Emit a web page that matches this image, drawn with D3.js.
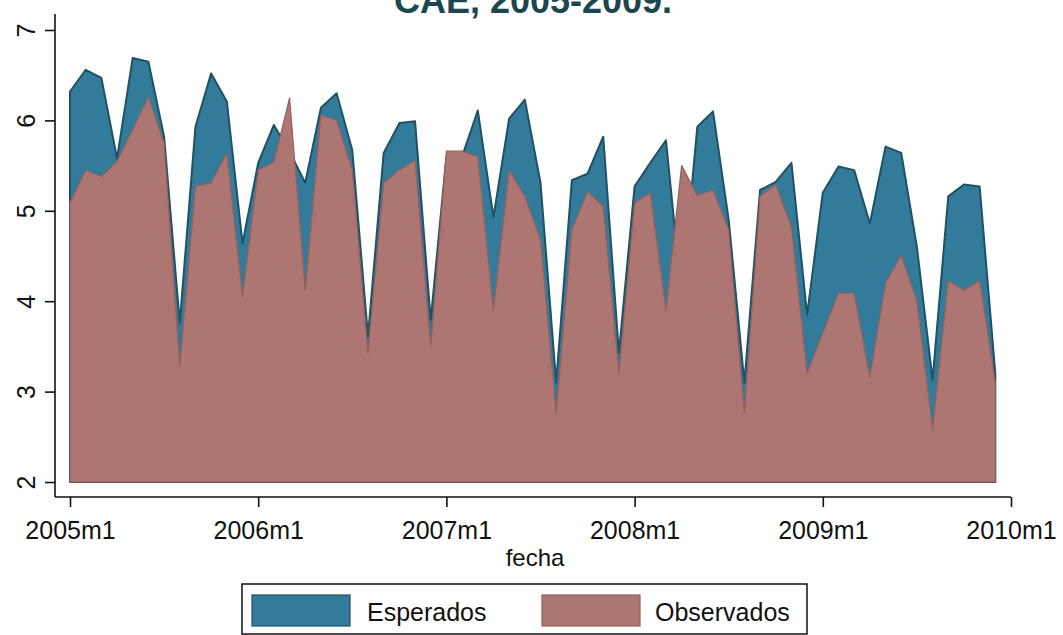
<!DOCTYPE html>
<html><head><meta charset="utf-8">
<script src="https://cdn.jsdelivr.net/npm/d3@7"></script>
<style>
body{margin:0;background:#fff}
svg{display:block}
text{font-family:"Liberation Sans",Arial,Helvetica,sans-serif}
</style>
</head><body>
<svg id="chart" width="1063" height="635"></svg>
<script>
// ---- data ----
const titleText = "CAE, 2005-2009.";
const xTitle = "fecha";
const tickLabels = ["2005m1","2006m1","2007m1","2008m1","2009m1","2010m1"];
const tickMonths = [0,12,24,36,48,60];
const yTicks = [2,3,4,5,6,7];
const yTickLabels = ["2","3","4","5","6","7"];
const legendLabels = ["Esperados","Observados"];
// monthly values, 2005m1 .. 2009m12
const esperados = [
  6.32,6.56,6.47,5.58,6.69,6.65,5.82,3.76,5.93,6.52,6.21,4.64,
  5.53,5.95,5.65,5.31,6.14,6.30,5.67,3.61,5.64,5.97,5.99,3.79,
  5.60,5.60,6.11,4.93,6.02,6.23,5.31,3.10,5.34,5.41,5.82,3.43,
  5.27,5.53,5.78,4.05,5.93,6.10,4.90,3.10,5.23,5.32,5.53,3.85,
  5.20,5.49,5.45,4.86,5.71,5.64,4.60,3.13,5.16,5.29,5.27,3.20
];
const observados = [
  5.09,5.45,5.38,5.55,5.90,6.26,5.75,3.28,5.27,5.31,5.64,4.05,
  5.45,5.54,6.25,4.12,6.06,6.00,5.45,3.43,5.31,5.45,5.56,3.50,
  5.66,5.66,5.60,3.90,5.45,5.16,4.68,2.76,4.79,5.21,5.05,3.20,
  5.09,5.20,3.90,5.50,5.17,5.23,4.79,2.76,5.16,5.29,4.82,3.20,
  3.65,4.09,4.09,3.16,4.20,4.51,4.00,2.58,4.23,4.12,4.23,3.10
];

// ---- styles ----
const espFill = "#337b9a", espLine = "#1f5266";
const obsFill = "#ad7672", obsLine = "#95605c";

const svg = d3.select("#chart");
const x = d3.scaleLinear().domain([0,60]).range([70,1011]);
const y = d3.scaleLinear().domain([2,7]).range([482,30]);
const axisY = 497, axisX = 55;

const area = d3.area().x((d,i)=>x(i)).y0(y(2)).y1(d=>y(d));

svg.append("path").datum(esperados).attr("d",area)
  .attr("fill",espFill).attr("stroke",espLine).attr("stroke-width",2).attr("stroke-linejoin","round");
svg.append("path").datum(observados).attr("d",area)
  .attr("fill",obsFill).attr("stroke",obsLine).attr("stroke-width",1.2).attr("stroke-linejoin","round");

// x axis
const gx = svg.append("g").attr("transform",`translate(0,${axisY})`)
  .call(d3.axisBottom(x).tickValues(tickMonths).tickFormat((d,i)=>tickLabels[i]).tickSize(10).tickSizeOuter(0));
gx.select(".domain").remove();
gx.selectAll(".tick line").attr("stroke","#111").attr("stroke-width",1.6);
gx.selectAll(".tick text").attr("y",42).attr("dy",0).attr("font-size",25).attr("fill","#111")
  .style("font-family","'Liberation Sans',Arial,sans-serif");
svg.append("line").attr("x1",axisX).attr("x2",x(60)).attr("y1",axisY).attr("y2",axisY)
  .attr("stroke","#111").attr("stroke-width",1.6);

// y axis
const gy = svg.append("g").attr("transform",`translate(${axisX},0)`)
  .call(d3.axisLeft(y).tickValues(yTicks).tickFormat((d,i)=>yTickLabels[i]).tickSize(10).tickSizeOuter(0));
gy.select(".domain").remove();
gy.selectAll(".tick line").attr("stroke","#111").attr("stroke-width",1.6);
gy.selectAll(".tick text").attr("transform","rotate(-90)").attr("x",0).attr("y",-20).attr("dy",0)
  .attr("text-anchor","middle").attr("font-size",25).attr("fill","#111")
  .style("font-family","'Liberation Sans',Arial,sans-serif");
svg.append("line").attr("x1",axisX).attr("x2",axisX).attr("y1",14).attr("y2",axisY)
  .attr("stroke","#111").attr("stroke-width",1.6);

// titles
svg.append("text").attr("x",533).attr("y",13).attr("text-anchor","middle")
  .attr("font-size",36).attr("font-weight","bold").attr("fill","#1c4650").text(titleText);
svg.append("text").attr("x",535).attr("y",566).attr("text-anchor","middle")
  .attr("font-size",24).attr("fill","#111").text(xTitle);

// legend
const lg = svg.append("g");
lg.append("rect").attr("x",242).attr("y",584).attr("width",565).attr("height",50)
  .attr("fill","#fff").attr("stroke","#111").attr("stroke-width",1.5);
const items = [
  {label:legendLabels[0], fill:espFill, line:espLine, sx:252, tx:367},
  {label:legendLabels[1], fill:obsFill, line:obsLine, sx:542, tx:655}
];
items.forEach(it=>{
  lg.append("rect").attr("x",it.sx).attr("y",595).attr("width",98).attr("height",31)
    .attr("fill",it.fill).attr("stroke",it.line).attr("stroke-width",1.2);
  lg.append("text").attr("x",it.tx).attr("y",621).attr("font-size",25).attr("fill","#111").text(it.label);
});
</script>
</body></html>
